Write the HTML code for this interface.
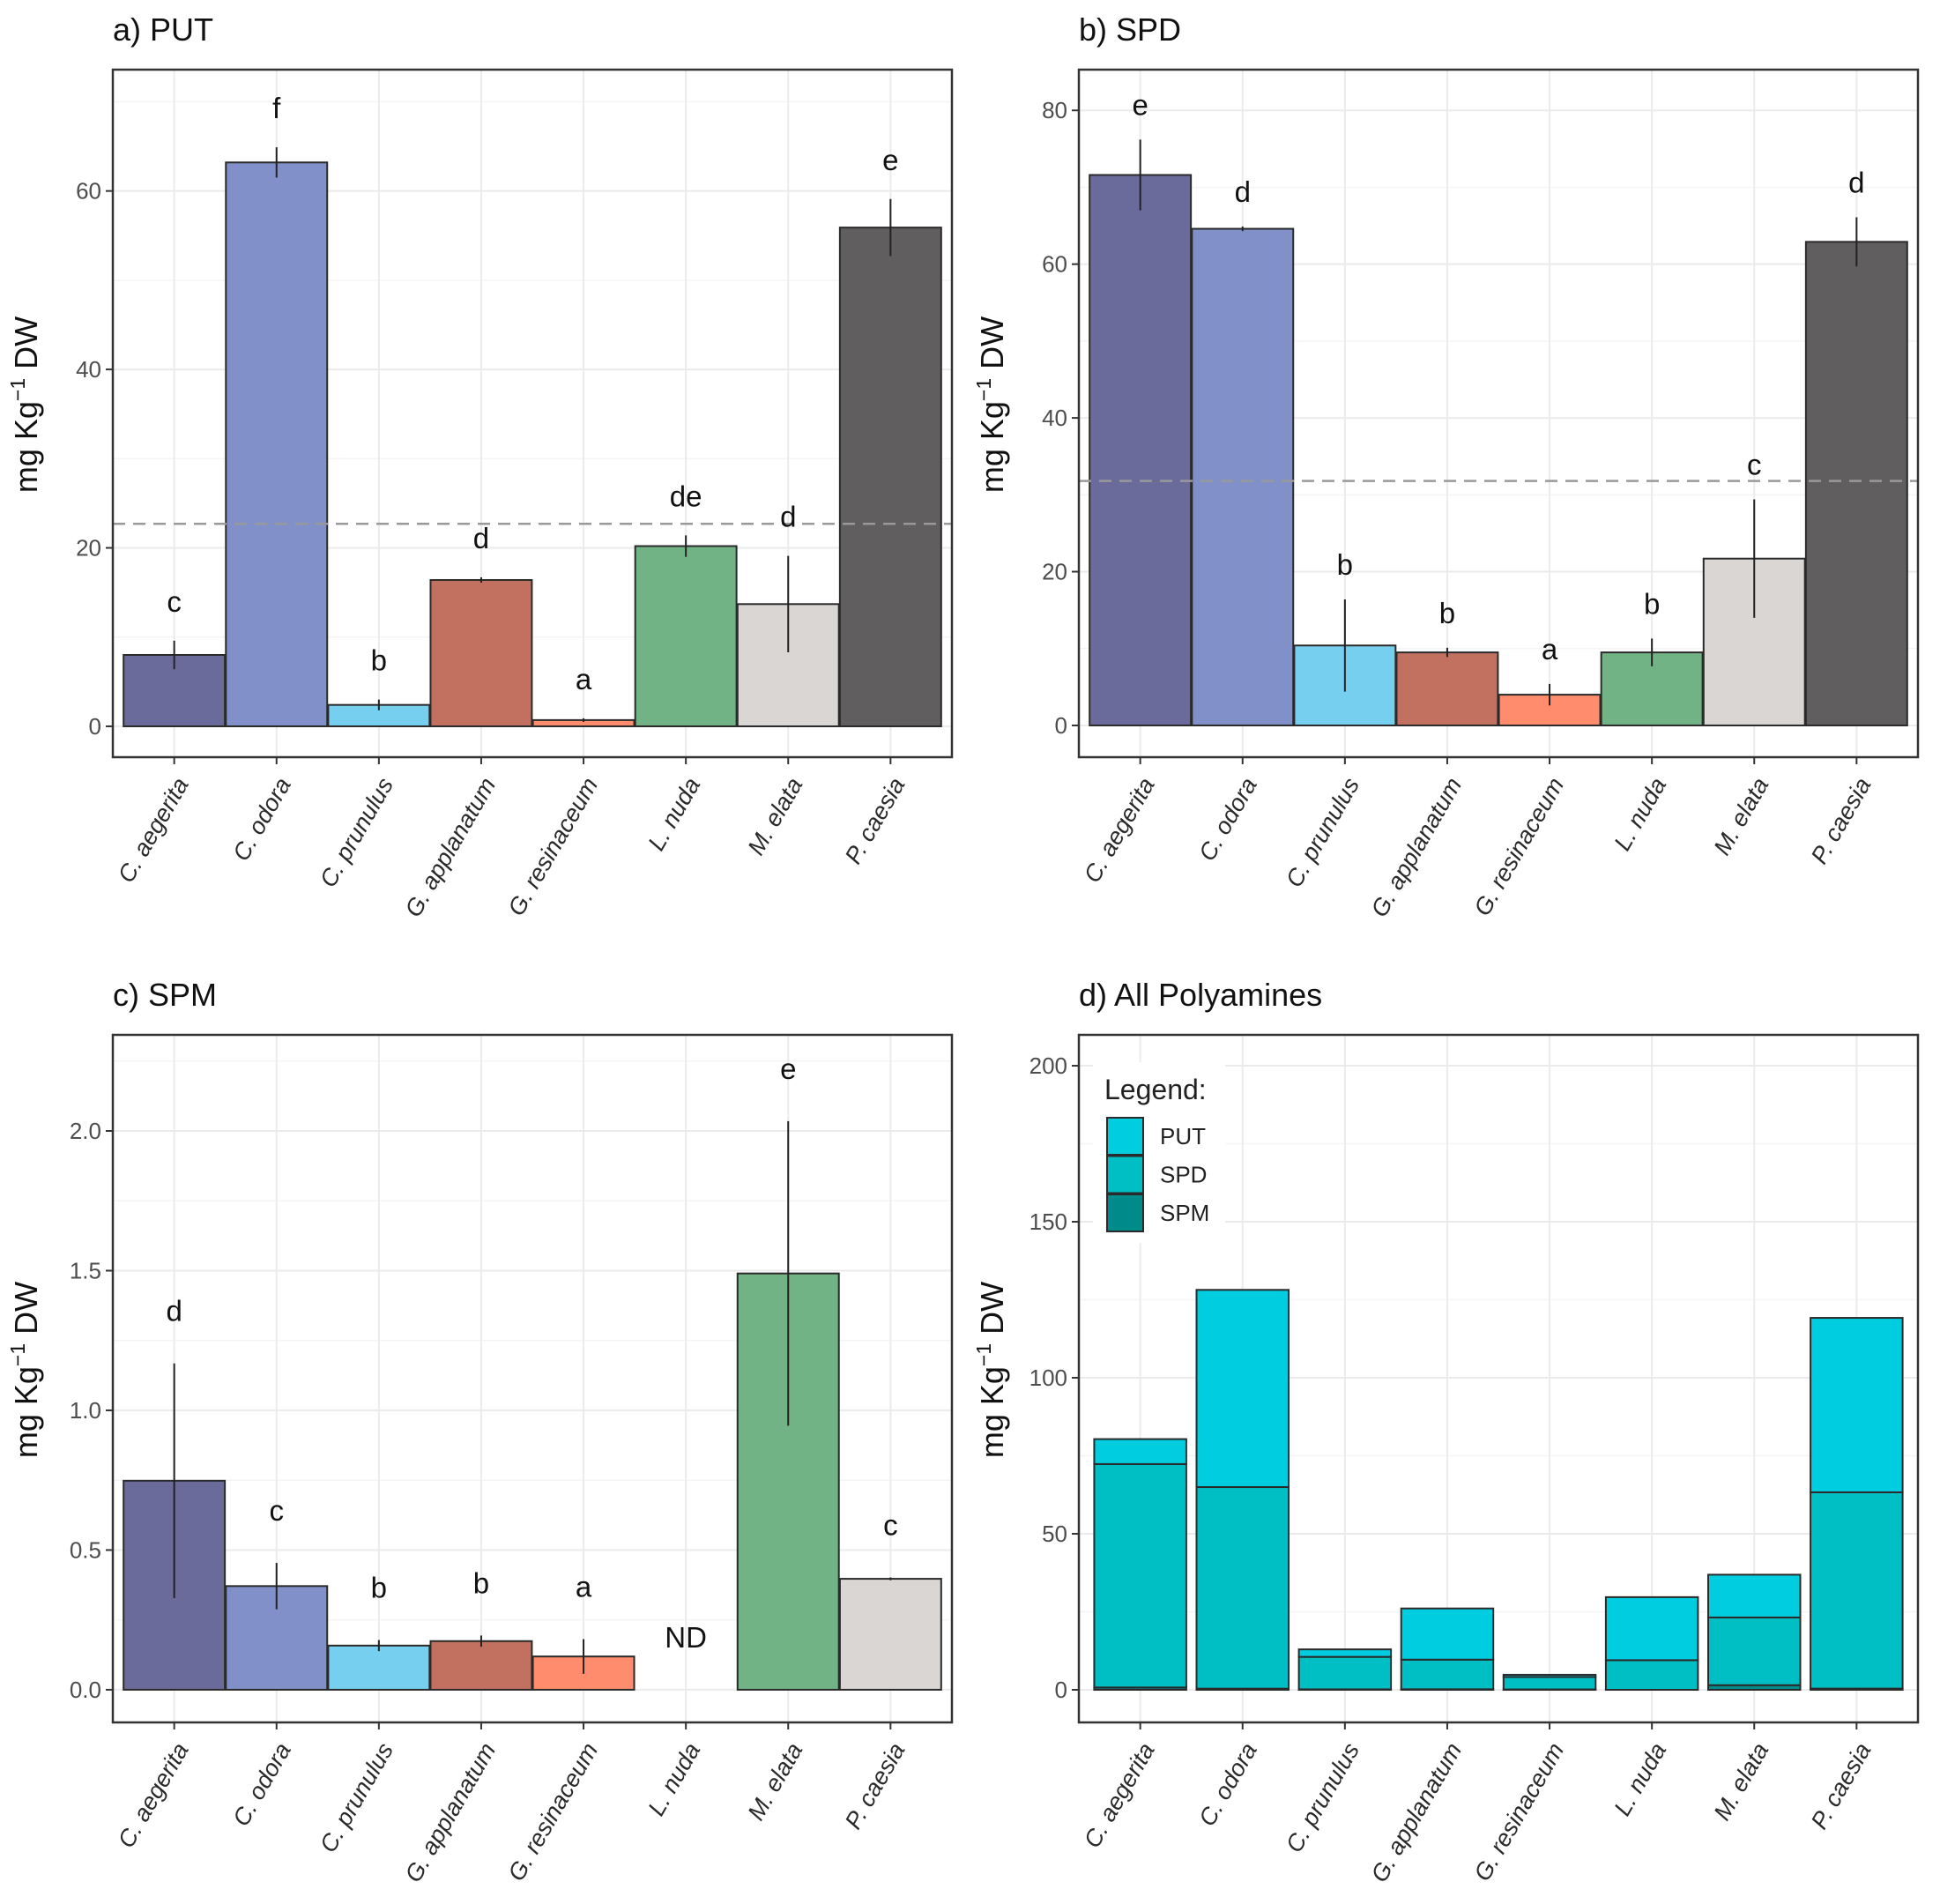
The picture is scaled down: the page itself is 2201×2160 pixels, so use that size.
<!DOCTYPE html>
<html><head><meta charset="utf-8"><style>
html,body{margin:0;padding:0;background:#fff;}
svg{display:block;font-family:"Liberation Sans",Arial,sans-serif;}
</style></head><body>
<svg id="fig" width="2201" height="2160" viewBox="0 0 2201 2160" xmlns="http://www.w3.org/2000/svg"></svg>
<script>
const categories=["C. aegerita","C. odora","C. prunulus","G. applanatum","G. resinaceum","L. nuda","M. elata","P. caesia"];
const putValues=[8.0,63.2,2.4,16.4,0.7,20.2,13.7,55.9];
const putErrors=[1.6,1.7,0.6,0.3,0.2,1.2,5.4,3.2];
const putLetters=["c","f","b","d","a","de","d","e"];
const putMean=[22.7];
const putTicks=[0,20,40,60];
const spdValues=[71.6,64.6,10.4,9.5,4.0,9.5,21.7,62.9];
const spdErrors=[4.6,0.3,6.0,0.6,1.4,1.8,7.7,3.2];
const spdLetters=["e","d","b","b","a","b","c","d"];
const spdMean=[31.8];
const spdTicks=[0,20,40,60,80];
const spmValues=[0.748,0.371,0.158,0.174,0.119,0,1.49,0.397];
const spmErrors=[0.42,0.083,0.02,0.02,0.062,0,0.545,0.005];
const spmLetters=["d","c","b","b","a","ND","e","c"];
const spmTicks=[0,0.5,1.0,1.5,2.0];
const spmTickLabels=["0.0","0.5","1.0","1.5","2.0"];
const allTicks=[0,50,100,150,200];

const NS="http://www.w3.org/2000/svg";
const svg=document.getElementById('fig');
function mk(tag,attrs,parent,name){
  const e=document.createElementNS(NS,tag);
  for(const k in attrs)e.setAttribute(k,attrs[k]);
  
  
  (parent||svg).appendChild(e);return e;
}
const palAB=["#6a6b9b","#8190c8","#77cff0","#c27161","#fe8c6d","#72b386","#d9d6d4","#615e60"];
const palC=["#6a6b9b","#8190c8","#77cff0","#c27161","#fe8c6d","none","#72b386","#d9d6d4"];

function panel(o){
  const g=mk('g',{},svg,o.name);
  const L=o.left,T=o.top,W=952,H=780,R=L+W,B=T+H;
  const step=W/8.2;
  const xs=i=>L+(i+0.6)*step;
  const ys=v=>B-(v-o.ymin)/(o.ymax-o.ymin)*H;
  mk('rect',{x:L,y:T,width:W,height:H,fill:'#fff'},g,'plot-background');
  for(let k=0;k<o.ticks.length;k++){
    const mv=o.ticks[k]+o.minorStep;
    if(ys(mv)>T) mk('line',{x1:L,x2:R,y1:ys(mv),y2:ys(mv),stroke:'#f4f4f4','stroke-width':1.5},g,'minor-gridline');
  }
  o.ticks.forEach(t=>mk('line',{x1:L,x2:R,y1:ys(t),y2:ys(t),stroke:'#ebebeb','stroke-width':2},g,'major-gridline'));
  categories.forEach((c,i)=>mk('line',{x1:xs(i),x2:xs(i),y1:T,y2:B,stroke:'#ebebeb','stroke-width':2},g,'vertical-gridline'));
  o.draw(g,xs,ys,step);
  mk('rect',{x:L,y:T,width:W,height:H,fill:'none',stroke:'#333','stroke-width':2.5},g,'plot-frame');
  o.ticks.forEach((t,k)=>{
    mk('line',{x1:L-8,x2:L,y1:ys(t),y2:ys(t),stroke:'#333','stroke-width':2},g,'y-tick');
    const tx=mk('text',{x:L-13,y:ys(t)+9,'text-anchor':'end','font-size':26,fill:'#4d4d4d'},g,'y-tick-label');
    tx.textContent=o.tickLabels?o.tickLabels[k]:String(t);
  });
  categories.forEach((c,i)=>{
    mk('line',{x1:xs(i),x2:xs(i),y1:B,y2:B+8,stroke:'#333','stroke-width':2},g,'x-tick');
    const ax=xs(i)+17,ay=B+30;
    const tx=mk('text',{x:ax,y:ay,'text-anchor':'end','font-size':27,'font-style':'italic',fill:'#2a2a2a',transform:`rotate(-60 ${ax} ${ay})`},g,'x-tick-label');
    tx.textContent=c;
  });
  const yt=mk('text',{x:0,y:0,'text-anchor':'middle','font-size':36,fill:'#111',transform:`translate(${L-86},${T+H/2-10}) rotate(-90)`},g,'y-axis-title');
  yt.innerHTML='mg Kg<tspan dy="-14" font-size="23">−1</tspan><tspan dy="14"> DW</tspan>';
  const ti=mk('text',{x:L,y:T-33,'font-size':36,fill:'#111'},g,'panel-title');
  ti.textContent=o.title;
}

function barPanel(vals,errs,letters,pal,mean,offset){
  return (g,xs,ys,step)=>{
    vals.forEach((v,i)=>{
      if(v<=0)return;
      const w=step*0.99;
      mk('rect',{x:xs(i)-w/2,y:ys(v),width:w,height:ys(0)-ys(v),fill:pal[i],stroke:'#2a2a2a','stroke-width':2},g,'bar-'+(i+1));
    });
    if(mean!==null){
      const x0=xs(0)-step*0.6, x1=xs(7)+step*0.6;
      mk('line',{x1:x0,x2:x1,y1:ys(mean),y2:ys(mean),stroke:'#999','stroke-width':2.5,'stroke-dasharray':'14,9'},g,'mean-dashed-line');
    }
    vals.forEach((v,i)=>{
      if(errs[i]>0) mk('line',{x1:xs(i),x2:xs(i),y1:ys(v+errs[i]),y2:ys(v-errs[i]),stroke:'#222','stroke-width':2},g,'error-bar');
      const t=mk('text',{x:xs(i),y:ys(v+errs[i])-offset+12,'text-anchor':'middle','font-size':33,fill:'#111'},g,'significance-letter');
      t.textContent=letters[i];
    });
  };
}

panel({name:'panel-a-put',title:'a) PUT',left:128,top:79,ymin:-3.46,ymax:73.6,ticks:putTicks,minorStep:10,
  draw:barPanel(putValues,putErrors,putLetters,palAB,putMean[0],45)});
panel({name:'panel-b-spd',title:'b) SPD',left:1224,top:79,ymin:-4.13,ymax:85.3,ticks:spdTicks,minorStep:10,
  draw:barPanel(spdValues,spdErrors,spdLetters,palAB,spdMean[0],40)});
panel({name:'panel-c-spm',title:'c) SPM',left:128,top:1174,ymin:-0.117,ymax:2.344,ticks:spmTicks,tickLabels:spmTickLabels,minorStep:0.25,
  draw:barPanel(spmValues,spmErrors,spmLetters,palC,null,60)});
const stackColors={PUT:'#00cde0',SPD:'#00bfc4',SPM:'#008b8b'};
panel({name:'panel-d-all',title:'d) All Polyamines',left:1224,top:1174,ymin:-10.45,ymax:209.9,ticks:allTicks,minorStep:25,
  draw:(g,xs,ys,step)=>{
    categories.forEach((c,i)=>{
      const w=step*0.9;
      const segs=[['SPM',spmValues[i]],['SPD',spdValues[i]],['PUT',putValues[i]]];
      let base=0;
      segs.forEach(([k,v])=>{
        mk('rect',{x:xs(i)-w/2,y:ys(base+v),width:w,height:ys(base)-ys(base+v),fill:stackColors[k],stroke:'#2a2a2a','stroke-width':2},g,'stack-'+k.toLowerCase()+'-'+(i+1));
        base+=v;
      });
    });
    const lg=mk('g',{},g,'legend');
    mk('rect',{x:1240,y:1205,width:150,height:205,fill:'#fff'},lg,'legend-background');
    const lt=mk('text',{x:1253,y:1247,'font-size':32,fill:'#222'},lg,'legend-title');
    lt.textContent='Legend:';
    ['PUT','SPD','SPM'].forEach((k,j)=>{
      const y=1268+j*43.5;
      mk('rect',{x:1256,y:y,width:41,height:42,fill:stackColors[k],stroke:'#2a2a2a','stroke-width':2},lg,'legend-key-'+k.toLowerCase());
      const t=mk('text',{x:1316,y:y+30,'font-size':26,fill:'#222'},lg,'legend-label-'+k.toLowerCase());
      t.textContent=k;
    });
  }});
</script>
</body></html>
